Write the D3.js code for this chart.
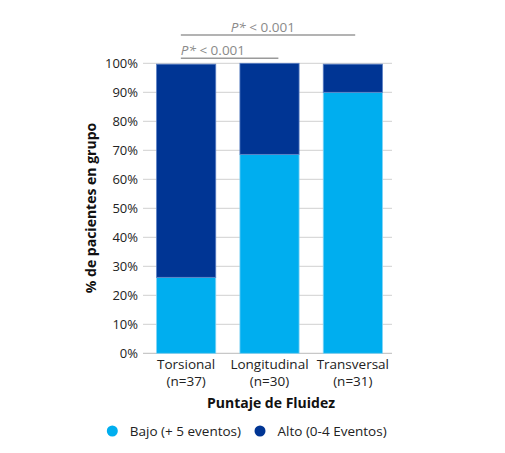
<!DOCTYPE html>
<html><head><meta charset="utf-8">
<script src="https://cdn.jsdelivr.net/npm/d3@7"></script>
<style>body{margin:0;background:#fff}svg{display:block}text{font-family:"Open Sans",sans-serif}</style>
</head><body><svg id="c" width="505" height="453"></svg>
<script>
const categories = ["Torsional", "Longitudinal", "Transversal"];
const nLabels = ["(n=37)", "(n=30)", "(n=31)"];
const bajo = [26.2, 68.6, 90.0];
const alto = [73.5, 31.4, 9.7];
const yTicks = [0,10,20,30,40,50,60,70,80,90,100];
const seriesNames = ["Bajo (+ 5 eventos)", "Alto (0-4 Eventos)"];
const colors = ["#00AEEF", "#003594"];
const sigLabels = ["P* < 0.001", "P* < 0.001"];

const svg = d3.select("#c");
const y = d3.scaleLinear().domain([0,100]).range([353.3, 63.3]);
const x = d3.scaleBand().domain(categories).range([144.5, 394.5]).paddingInner(0.29).paddingOuter(0.145);

// gridlines
svg.append("g").selectAll("line").data(yTicks).join("line")
  .attr("x1",143).attr("x2",392).attr("y1",d=>y(d)).attr("y2",d=>y(d))
  .attr("stroke",d=>d===0?"#c8c8c8":"#d9d9d9").attr("stroke-width",1.2);

// y labels
svg.append("g").selectAll("text").data(yTicks).join("text")
  .attr("x",138).attr("y",d=>y(d)).attr("dy","0.35em").attr("text-anchor","end")
  .attr("font-size",13).attr("fill","#222").text(d=>d+"%");

// bars
const stacked = categories.map((c,i)=>({c, b:bajo[i], a:alto[i]}));
const g = svg.append("g");
g.selectAll("rect.b").data(stacked).join("rect").attr("class","b")
  .attr("x",d=>x(d.c)).attr("width",x.bandwidth())
  .attr("y",d=>y(d.b)).attr("height",d=>y(0)-y(d.b))
  .attr("fill",colors[0]).attr("stroke","#7fd3f5").attr("stroke-width",0.8);
g.selectAll("rect.a").data(stacked).join("rect").attr("class","a")
  .attr("x",d=>x(d.c)).attr("width",x.bandwidth())
  .attr("y",d=>y(d.b+d.a)).attr("height",d=>y(d.b)-y(d.b+d.a))
  .attr("fill",colors[1]).attr("stroke","#5a7fc4").attr("stroke-width",0.8);

// x labels
const xl = svg.append("g").selectAll("text").data(categories).join("text")
  .attr("x",d=>x(d)+x.bandwidth()/2).attr("text-anchor","middle")
  .attr("font-size",13.5).attr("fill","#222");
xl.append("tspan").attr("x",d=>x(d)+x.bandwidth()/2).attr("y",369).text(d=>d);
xl.append("tspan").attr("x",d=>x(d)+x.bandwidth()/2).attr("y",386).text((d,i)=>nLabels[i]);

// axis titles
svg.append("text").attr("x",271).attr("y",408).attr("text-anchor","middle")
  .attr("font-size",14).attr("font-weight","bold").attr("fill","#111").text("Puntaje de Fluidez");
svg.append("text").attr("transform","translate(96,208) rotate(-90)").attr("text-anchor","middle")
  .attr("font-size",14).attr("font-weight","bold").attr("fill","#111").text("% de pacientes en grupo");

// significance brackets (line ends as fractions within the bands)
const sig = [
  {from:0,fFrom:0.41,to:2,fTo:0.54,yLine:35,label:sigLabels[0],anchor:"middle"},
  {from:0,fFrom:0.41,to:1,fTo:0.65,yLine:58.3,label:sigLabels[1],anchor:"start"}
];
sig.forEach(s=>{
  const x1 = x(categories[s.from])+s.fFrom*x.bandwidth();
  const x2 = x(categories[s.to])+s.fTo*x.bandwidth();
  svg.append("line").attr("x1",x1).attr("x2",x2).attr("y1",s.yLine).attr("y2",s.yLine)
    .attr("stroke","#9a9a9a").attr("stroke-width",1.5);
  const t = svg.append("text").attr("x",s.anchor==="middle"?x1+(x2-x1)*0.47:x1).attr("y",s.yLine-3.5)
    .attr("text-anchor",s.anchor).attr("font-size",13.5).attr("fill","#8a8a8a");
  t.append("tspan").attr("font-style","italic").text(s.label.slice(0,2));
  t.append("tspan").text(s.label.slice(2));
});

// legend
const lx = [112.3, 260];
seriesNames.forEach((n,i)=>{
  svg.append("circle").attr("cx",lx[i]).attr("cy",431).attr("r",5.5).attr("fill",colors[i]);
  svg.append("text").attr("x",lx[i]+17.5).attr("y",431).attr("dy","0.35em")
    .attr("font-size",13.5).attr("fill","#222").text(n);
});
</script></body></html>
